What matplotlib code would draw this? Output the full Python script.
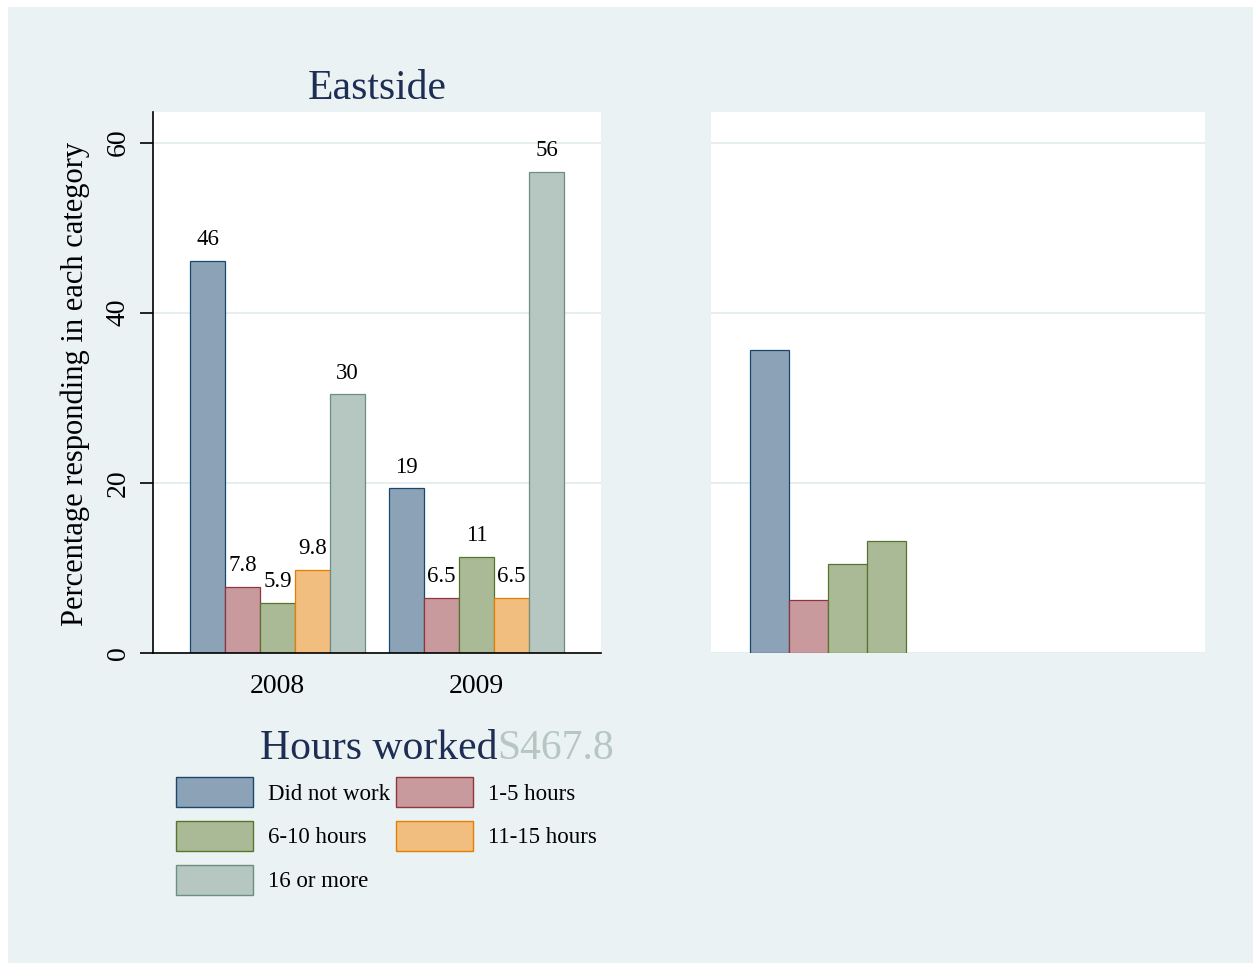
import matplotlib
matplotlib.use("Agg")
import matplotlib.pyplot as plt
from matplotlib.patches import Patch, Rectangle

plt.rcParams['font.family'] = ['Liberation Serif', 'DejaVu Serif']

# data
years = ['2008', '2009']
categories = ['Did not work', '1-5 hours', '6-10 hours', '11-15 hours', '16 or more']
values_2008 = [46.1, 7.8, 5.9, 9.8, 30.4]
values_2009 = [19.4, 6.5, 11.3, 6.5, 56.6]
labels_2008 = ['46', '7.8', '5.9', '9.8', '30']
labels_2009 = ['19', '6.5', '11', '6.5', '56']
right_values = [35.6, 6.2, 10.5, 13.2]
right_colors_idx = [0, 1, 2, 2]

fills = ['#8CA3B7', '#C89A9D', '#AABA97', '#F1BE7F', '#B6C6C1']
edges = ['#1A476F', '#90353B', '#55752F', '#E37E00', '#6E8E84']
bg = '#EAF2F3'
title_col = '#1E2D53'
grid_col = '#E4EDEF'

W, H = 1253, 963
fig = plt.figure(figsize=(W / 100, H / 100), dpi=100, facecolor='white')
fig.add_artist(Rectangle((8 / W, 0), 1 - 8 / W, 1 - 7 / H, transform=fig.transFigure,
                         facecolor=bg, edgecolor='none', zorder=-10))

def px_axes(x0, x1, y0, y1):
    return fig.add_axes([x0 / W, 1 - y1 / H, (x1 - x0) / W, (y1 - y0) / H])

ax = px_axes(153, 601, 112, 653)
ax2 = px_axes(711, 1205, 112, 653)

ymax = 63.6
group_pos = [0, 5.686]
for a in (ax, ax2):
    a.set_facecolor('white')
    a.set_ylim(0, ymax)
    a.set_yticks([0, 20, 40, 60])
    a.grid(axis='y', color=grid_col, linewidth=1.3)
    a.set_axisbelow(True)

# left panel bars
for i in range(len(categories)):
    xs = [g + (i - 2) for g in group_pos]
    hs = [values_2008[i], values_2009[i]]
    b = ax.bar(xs, hs, width=1.0, color=fills[i], edgecolor=edges[i], linewidth=0.9,
               label=categories[i])
    ax.bar_label(b, labels=[labels_2008[i], labels_2009[i]], padding=7.5, fontsize=16.5)

ax.set_xlim(-3.557, 9.243)
ax.set_xticks(group_pos, years)
ax.tick_params(axis='x', length=0, pad=15, labelsize=20)
ax.tick_params(axis='y', length=9.5, width=1.2, pad=6.5, labelsize=20, labelrotation=90)
for lab in ax.get_yticklabels():
    lab.set_va('center')
for s in ['top', 'right']:
    ax.spines[s].set_visible(False)
ax.spines['left'].set_linewidth(1.2)
ax.spines['bottom'].set_linewidth(1.2)
ax.set_title('Eastside', fontsize=30, color=title_col, pad=9.5)
fig.text(75 / W, 1 - 384 / H, 'Percentage responding in each category', rotation=90,
         ha='center', va='center', fontsize=22)

# right panel
ax2.bar(range(len(right_values)), right_values, width=1.0,
        color=[fills[k] for k in right_colors_idx],
        edgecolor=[edges[k] for k in right_colors_idx], linewidth=0.9)
ax2.set_xlim(-1.5, 11.17)
ax2.set_xticks([])
ax2.tick_params(axis='y', length=0, labelleft=False)
for s in ax2.spines.values():
    s.set_visible(False)

# legend title
fig.text(497 / W, 1 - 759 / H, 'Hours worked', ha='right', va='baseline', fontsize=30,
         color=title_col)
fig.text(497 / W, 1 - 759 / H, 'S467.8', ha='left', va='baseline', fontsize=30,
         color=fills[4])

handles = [Patch(facecolor=fills[i], edgecolor=edges[i], linewidth=1.0) for i in range(5)]
order = [0, 2, 4, 1, 3]
fig.legend([handles[i] for i in order], [categories[i] for i in order],
           loc='upper left', bbox_to_anchor=(176 / W, 1 - 777 / H), ncol=2,
           frameon=False, fontsize=16.5, borderpad=0, borderaxespad=0,
           handlelength=3.36, handleheight=1.64, handletextpad=0.65,
           labelspacing=0.6, columnspacing=0.25)

fig.savefig('out.png', dpi=100, facecolor='white')
